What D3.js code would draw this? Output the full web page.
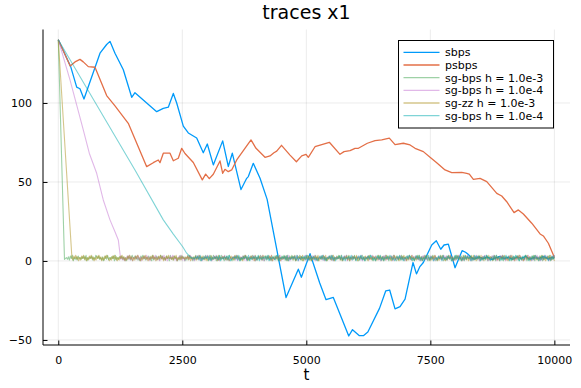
<!DOCTYPE html>
<html><head><meta charset="utf-8">
<script src="https://cdn.jsdelivr.net/npm/d3@7"></script>
<style>body{margin:0;background:#fff} svg text{font-family:"DejaVu Sans",sans-serif;fill:#000}</style>
</head><body><svg id="c" width="581" height="388"></svg>
<script>
const chartTitle = "traces x1";
const xLabel = "t";
const xTicks = [0, 2500, 5000, 7500, 10000];
const yTicks = [-50, 0, 50, 100];
const seriesNames = ["sbps", "psbps", "sg-bps h = 1.0e-3", "sg-bps h = 1.0e-4", "sg-zz h = 1.0e-3", "sg-bps h = 1.0e-4"];
const seriesColors = ["#009AFA", "#E36F47", "#3EA44E", "#C371D2", "#AC8E18", "#00AAAE"];
const seriesOpacity = [1, 1, 0.5, 0.5, 0.5, 0.5];

// sbps (blue)
const sbpsT = [0,250,371,437,518,841,975,1042,1143,1311,1480,1546,1984,2117,2218,2319,2387,2520,2621,2790,2923,3004,3125,3314,3427,3508,3683,3798,3831,3931,4067,4210,4591,4839,4900,5075,5270,5397,5544,5855,5931,6070,6150,6240,6475,6600,6680,6788,6889,6990,7150,7220,7285,7359,7528,7620,7710,7776,7863,7998,8140,8210,8260,8330,8400,8480,8560,8650,8740,8820,8900,8990,9070,9160,9250,9340,9420,9510,9600,9690,9780,9870,9950,10000];
const sbpsV = [140,123,110,109,102.5,131.5,137,139,131.5,121,103.6,106.5,94.5,96.6,97.3,106,100,85.3,81,77.8,68.5,74,60.8,76,59.8,68.2,45.2,52.3,53.4,61.8,52.3,39,-23.2,-5.2,-10.3,4.6,-14,-24.5,-23.1,-47.5,-43.5,-47.3,-47.3,-45,-30,-19,-18.4,-30.3,-28.9,-24.2,-1,-8.2,-3.8,-1,10.1,12.8,7.4,10.1,10.6,-4.3,6.5,5.5,4.2,2,1.2,2.6,1.5,2.4,0.8,2,2.9,1.4,2.2,1.1,2.5,1.7,2.8,1.2,2.1,1.6,2.7,1.3,2.2,1.8];

// psbps (orange)
const psbpsT = [0,240,337,437,504,605,740,975,1143,1411,1782,1915,2016,2050,2117,2252,2319,2419,2488,2554,2722,2903,2971,3044,3125,3260,3314,3360,3427,3495,3597,3885,3986,4167,4268,4347,4403,4500,4671,4800,4907,4994,5040,5175,5464,5679,5760,5881,5982,6050,6230,6385,6520,6673,6788,6956,7091,7192,7359,7494,7628,7796,7931,8133,8233,8286,8367,8502,8637,8839,8939,9040,9187,9274,9375,9544,9712,9778,9879,9980,10000];
const psbpsV = [140,123.4,126,127.6,126,123,122.6,104.7,98.1,87.1,59.7,62.2,63.9,62.2,68.2,68.2,63.4,65,71.3,68,62.3,51.3,55,52.1,54.9,63.3,55.5,58,56.5,57.6,63.9,76.6,71.3,65.6,66.5,68.5,69.5,73.2,67,62.8,66.5,67.5,65.6,72.3,75.1,67.5,69.2,69.8,71.3,71.3,74.5,76.1,76.6,77.7,73.6,74.5,73.4,71.3,69.2,65.6,62.2,57.6,55.9,56.1,55.5,55,51.7,52.3,50.2,42.8,41.1,37.5,30.6,32.3,29.7,23.9,17.1,15.8,11.2,3.8,2];

// noisy plateau codes (each digit = 0.5 units above -0.4), estimated from the fuzzy band
const noiseA = "4536274815362745364728153647253864735261473825364718253647362514736285473625174836254736182547362847";
const noiseB = "3527461835274615283746152837461528374615273846152738461527384615273864152738641527386415273846152738";
const noiseC = "6251473826154738261547382615473826514738261547386251473826154738625147382615473862514738261547382651";
const noiseD = "2748361527483615274836152748361527486315274836152748361527483615274863152748361527483615274836152748";
const noiseE = "5364728153647281536472815364728135647281536472815364728153647281536427815364728153647281536472815364";

// sg series: initial descent, then noisy plateau
const sgBps3T = [0,125];
const sgBps3V = [140,1];
const sgBps3Noise = noiseA + noiseB + noiseC + noiseD + noiseE;

const sgBps4T = [0,236,504,625,774,907,1042,1143,1210,1258];
const sgBps4V = [140,114.6,83,68.2,55.5,38.6,26,18.5,13.3,1];
const sgBps4Noise = noiseC + noiseE + noiseA + noiseD;

const sgZz3T = [0,275];
const sgZz3V = [140,2];
const sgZz3Noise = noiseD + noiseA + noiseE + noiseB + noiseC;

const sgBps4bT = [0,1546,2117,2319,2508,2588,2689];
const sgBps4bV = [140,57.6,26,17,9,4.9,1.7];
const sgBps4bNoise = noiseE + noiseC + noiseB;

const noiseBase = -0.4, noiseUnit = 0.5, tEnd = 10000;

function buildSeries(T, V, noise) {
  const pts = T.map((t, i) => [t, V[i]]);
  if (noise) {
    const codes = noise.split("").map(Number);
    const t0 = T[T.length - 1];
    const step = (tEnd - t0) / codes.length;
    codes.forEach((c, i) => pts.push([t0 + (i + 1) * step, noiseBase + noiseUnit * c]));
  }
  return pts;
}

const seriesData = [
  buildSeries(sbpsT, sbpsV),
  buildSeries(psbpsT, psbpsV),
  buildSeries(sgBps3T, sgBps3V, sgBps3Noise),
  buildSeries(sgBps4T, sgBps4V, sgBps4Noise),
  buildSeries(sgZz3T, sgZz3V, sgZz3Noise),
  buildSeries(sgBps4bT, sgBps4bV, sgBps4bNoise)
];

const svg = d3.select("#c");
const L = 43, R = 570, T0 = 29.5, B = 345;
const x = d3.scaleLinear().domain([-308, 10315]).range([L, R]);
const y = d3.scaleLinear().domain([-53.2, 146.5]).range([B, T0]);

// grid
const grid = svg.append("g");
grid.selectAll(".gx").data(xTicks).enter().append("line")
  .attr("x1", d => x(d)).attr("x2", d => x(d)).attr("y1", T0).attr("y2", B)
  .attr("stroke", "#000").attr("stroke-opacity", 0.1).attr("stroke-width", 0.8);
grid.selectAll(".gy").data(yTicks).enter().append("line")
  .attr("x1", L).attr("x2", R).attr("y1", d => y(d)).attr("y2", d => y(d))
  .attr("stroke", "#000").attr("stroke-opacity", 0.1).attr("stroke-width", 0.8);

// series
const line = d3.line().x(d => x(d[0])).y(d => y(d[1]));
svg.append("clipPath").attr("id", "pc").append("rect")
  .attr("x", L).attr("y", T0).attr("width", R - L).attr("height", B - T0);
seriesData.forEach((pts, i) => {
  svg.append("path").datum(pts).attr("d", line)
    .attr("fill", "none").attr("stroke", seriesColors[i])
    .attr("stroke-opacity", seriesOpacity[i]).attr("stroke-width", i < 2 ? 1.3 : 1.1)
    .attr("stroke-linejoin", "round").attr("clip-path", "url(#pc)");
});

// axes
const fmt = d => d < 0 ? "\u2212" + Math.abs(d) : String(d);
const xAxis = d3.axisBottom(x).tickValues(xTicks).tickFormat(fmt).tickSizeInner(-4.5).tickSizeOuter(0).tickPadding(11);
const yAxis = d3.axisLeft(y).tickValues(yTicks).tickFormat(fmt).tickSizeInner(-4.5).tickSizeOuter(0).tickPadding(11);
const gx = svg.append("g").attr("transform", `translate(0,${B})`).call(xAxis);
const gy = svg.append("g").attr("transform", `translate(${L},0)`).call(yAxis);
[gx, gy].forEach(g => {
  g.select(".domain").attr("stroke", "#000").attr("stroke-width", 1);
  g.selectAll(".tick line").attr("stroke", "#000");
  g.selectAll(".tick text").attr("font-size", 11).attr("font-family", "DejaVu Sans").attr("fill", "#000");
});
gx.select(".domain").attr("d", `M${L},0H${R}`);
gy.select(".domain").attr("d", `M0,${B}V${T0}`);

// title & label
svg.append("text").attr("x", 306.5).attr("y", 19).attr("text-anchor", "middle")
  .attr("font-size", 19).text(chartTitle);
svg.append("text").attr("x", 306.5).attr("y", 380).attr("text-anchor", "middle")
  .attr("font-size", 15).text(xLabel);

// legend
const lg = svg.append("g");
lg.append("rect").attr("x", 398.5).attr("y", 40.5).attr("width", 155).attr("height", 87.5)
  .attr("fill", "#fff").attr("stroke", "#000").attr("stroke-width", 1);
seriesNames.forEach((n, i) => {
  const yy = 52.3 + 12.68 * i;
  lg.append("line").attr("x1", 403.5).attr("x2", 439.5).attr("y1", yy).attr("y2", yy)
    .attr("stroke", seriesColors[i]).attr("stroke-opacity", seriesOpacity[i]).attr("stroke-width", 1.3);
  lg.append("text").attr("x", 445).attr("y", yy).attr("dy", "0.35em")
    .attr("font-size", 11).text(n);
});
</script></body></html>
